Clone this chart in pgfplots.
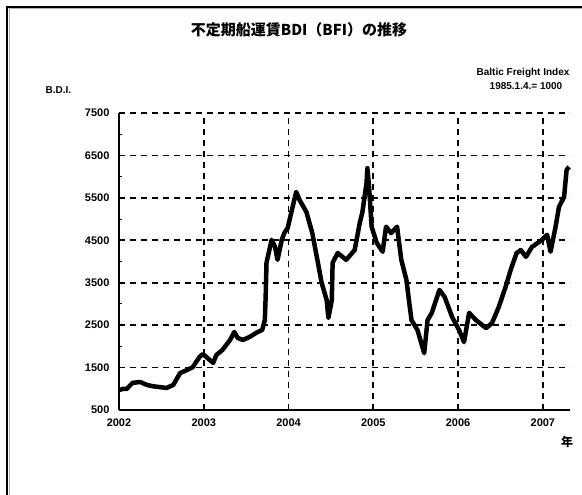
\documentclass[border=0pt]{standalone}
\usepackage{pgfplots}
\pgfplotsset{compat=1.18}
\usepackage{fontspec}
\setmainfont{Liberation Sans}
\newfontfamily\cjk{Noto Sans CJK JP}
\begin{document}
\begin{tikzpicture}[x=1pt,y=-1pt]
\path[use as bounding box] (0,0) rectangle (582,495);
\draw[black,line width=2pt] (7,495) -- (7,7) -- (582,7);
\draw[gray!60,line width=1pt] (9,495) -- (9,9) -- (582,9);
\node[font=\cjk\bfseries\fontsize{15}{16}\selectfont] at (299,30) {不定期船運賃BDI（BFI）の推移};
\node[anchor=west,font=\bfseries\fontsize{10}{11}\selectfont] at (42,90) {B.D.I.};
\node[anchor=east,font=\bfseries\fontsize{10}{11}\selectfont] at (573,73) {Baltic Freight Index};
\node[font=\bfseries\fontsize{10}{11}\selectfont] at (526,86) {1985.1.4.= 1000};
\node[font=\cjk\bfseries\fontsize{12}{13}\selectfont] at (567,442) {年};
\begin{axis}[
  at={(119pt,-410pt)}, anchor=south west,
  scale only axis, width=451pt, height=297pt,
  xmin=2002, xmax=2007.32, ymin=500, ymax=7500,
  axis lines=left, axis line style={-, line width=1.6pt, black},
  xtick={2002,2003,2004,2005,2006,2007},
  xticklabels={2002,2003,2004,2005,2006,2007},
  ytick={500,1500,2500,3500,4500,5500,6500,7500},
  yticklabels={500,1500,2500,3500,4500,5500,6500,7500},
  minor ytick={1000,2000,3000,4000,5000,6000,7000},
  tick align=inside, major tick length=4pt, minor tick length=3pt,
  tick style={black, line width=1pt},
  xmajorgrids, ymajorgrids,
  major grid style={black, line width=1.8pt, dash pattern=on 6pt off 5pt},
  ticklabel style={font=\bfseries\fontsize{11}{12}\selectfont},
  /pgf/number format/assume math mode=true,
  xticklabel style={yshift=-5pt},
  yticklabel style={xshift=-6pt},
  clip=false,
]
\addplot[black, line width=4.5pt, line join=round] coordinates {
(2002.00,970) (2002.05,1000) (2002.09,995) (2002.16,1140) (2002.25,1160)
(2002.33,1090) (2002.40,1060) (2002.48,1040) (2002.56,1020) (2002.64,1090)
(2002.72,1370) (2002.80,1440) (2002.87,1510) (2002.95,1750) (2002.99,1820)
(2003.07,1680) (2003.11,1610) (2003.15,1800) (2003.22,1915) (2003.31,2150)
(2003.36,2340) (2003.40,2200) (2003.46,2150) (2003.54,2220) (2003.62,2320)
(2003.69,2390) (2003.72,2620) (2003.73,3170) (2003.74,3970) (2003.80,4510)
(2003.84,4350) (2003.87,4040) (2003.92,4510) (2003.95,4670) (2003.99,4790)
(2004.04,5220) (2004.09,5640) (2004.13,5450) (2004.21,5170) (2004.28,4670)
(2004.34,4040) (2004.39,3500) (2004.45,3090) (2004.47,2670) (2004.51,3090)
(2004.52,3970) (2004.58,4200) (2004.68,4040) (2004.78,4270) (2004.84,4910)
(2004.87,5150) (2004.92,5850) (2004.93,6200) (2004.95,5760) (2004.98,4820)
(2005.04,4440) (2005.11,4230) (2005.15,4820) (2005.21,4670) (2005.28,4820)
(2005.33,4040) (2005.39,3570) (2005.45,2620) (2005.52,2390) (2005.60,1840)
(2005.64,2620) (2005.69,2790) (2005.78,3330) (2005.84,3170) (2005.93,2690)
(2006.01,2390) (2006.07,2100) (2006.13,2790) (2006.21,2620) (2006.33,2430)
(2006.40,2550) (2006.48,2930) (2006.56,3400) (2006.62,3800) (2006.69,4200)
(2006.74,4270) (2006.80,4110) (2006.87,4340) (2006.99,4510) (2007.05,4630)
(2007.09,4230) (2007.15,4820) (2007.19,5290) (2007.25,5520) (2007.28,6160)
(2007.31,6230)
};
\end{axis}
\end{tikzpicture}
\end{document}
